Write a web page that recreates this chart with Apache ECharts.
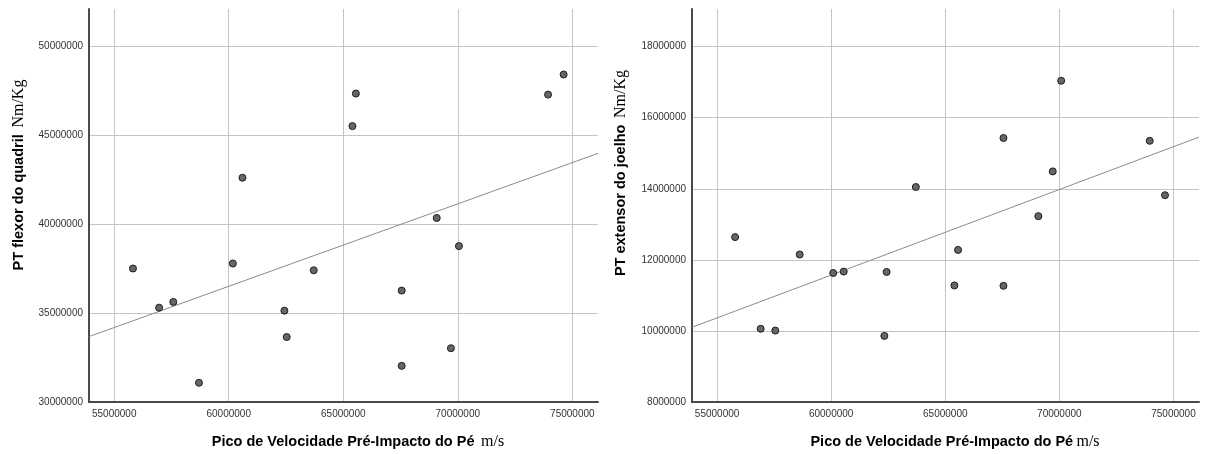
<!DOCTYPE html>
<html>
<head>
<meta charset="utf-8">
<script src="https://cdn.jsdelivr.net/npm/echarts@6/dist/echarts.min.js"></script>
<style>
  html, body { margin: 0; padding: 0; background: #fff; }
  #chart { width: 1211px; height: 454px; }
</style>
</head>
<body>
<div id="chart"></div>
<script>
// Peak pre-impact foot velocity (m/s) for each athlete, hip panel and knee panel
const velocityHip = [55820000, 56960000, 57580000, 58700000, 60180000, 60600000, 62430000, 62530000, 63710000,
                     65400000, 65550000, 67550000, 67550000, 69080000, 69700000, 70050000, 73940000, 74620000];
// Peak torque of the hip flexors (Nm/Kg)
const hipFlexor = [37500000, 35300000, 35620000, 31080000, 37780000, 42600000, 35130000, 33650000, 37400000,
                   45500000, 47330000, 36260000, 32030000, 40340000, 33020000, 38760000, 47270000, 48400000];

const velocityKnee = [55790000, 56910000, 57550000, 58620000, 60090000, 60550000, 62430000, 62330000, 63710000,
                      65400000, 65560000, 67550000, 67550000, 69080000, 69710000, 70080000, 73960000, 74630000];
// Peak torque of the knee extensors (Nm/Kg)
const kneeExtensor = [12640000, 10060000, 10010000, 12150000, 11630000, 11670000, 11660000, 9860000, 14050000,
                      11280000, 12280000, 11270000, 15430000, 13230000, 14490000, 17040000, 15350000, 13820000];

// Axis extents
const xRange = [53900000, 76120000];
const hipRange = [30000000, 52080000];
const kneeRange = [8000000, 19060000];

// Least-squares fit line across the x range
function fitLine(xs, ys, range) {
  const n = xs.length;
  const mx = xs.reduce((a, b) => a + b, 0) / n;
  const my = ys.reduce((a, b) => a + b, 0) / n;
  let sxy = 0, sxx = 0;
  for (let i = 0; i < n; i++) {
    sxy += (xs[i] - mx) * (ys[i] - my);
    sxx += (xs[i] - mx) * (xs[i] - mx);
  }
  const b = sxy / sxx, a = my - b * mx;
  return range.map(x => [x, a + b * x]);
}

const labelFont = 'Liberation Sans, Arial, sans-serif';
const gridColor = '#c4c4c4';
const axisColor = '#4a4a4a';
const plain = v => String(Math.round(v));

function xAxis(gridIndex) {
  return {
    type: 'value', gridIndex, min: xRange[0], max: xRange[1],
    axisLine: { show: true, onZero: false, lineStyle: { color: axisColor, width: 2 } },
    axisTick: { show: false },
    axisLabel: { color: '#333', fontSize: 10, fontFamily: labelFont, margin: 7, formatter: plain,
                 showMinLabel: false, showMaxLabel: false },
    splitLine: { show: true, showMinLine: false, showMaxLine: false,
                 lineStyle: { color: gridColor, width: 1 } }
  };
}
function yAxis(gridIndex, range) {
  return {
    type: 'value', gridIndex, min: range[0], max: range[1],
    axisLine: { show: true, onZero: false, lineStyle: { color: axisColor, width: 2 } },
    axisTick: { show: false },
    axisLabel: { color: '#333', fontSize: 10, fontFamily: labelFont, margin: 6, formatter: plain,
                 showMinLabel: true, showMaxLabel: false },
    splitLine: { show: true, showMinLine: false, showMaxLine: false,
                 lineStyle: { color: gridColor, width: 1 } }
  };
}

const pointStyle = { color: '#666666', borderColor: '#1e1e1e', borderWidth: 1, opacity: 1 };
const lineStyle = { color: '#8c8c8c', width: 1 };

const rich = {
  b: { fontFamily: labelFont, fontWeight: 'bold', fontSize: 14.5, color: '#111' },
  u: { fontFamily: 'Liberation Serif, Times New Roman, serif', fontSize: 16, color: '#111' }
};

const chart = echarts.init(document.getElementById('chart'), null, { renderer: 'canvas' });
chart.setOption({
  animation: false,
  backgroundColor: '#ffffff',
  grid: [
    { left: 89, top: 9, width: 509, height: 393 },
    { left: 692, top: 9, width: 507, height: 393 }
  ],
  xAxis: [xAxis(0), xAxis(1)],
  yAxis: [yAxis(0, hipRange), yAxis(1, kneeRange)],
  series: [
    { type: 'line', xAxisIndex: 0, yAxisIndex: 0, data: fitLine(velocityHip, hipFlexor, xRange),
      symbol: 'none', lineStyle, z: 2, silent: true },
    { type: 'scatter', xAxisIndex: 0, yAxisIndex: 0, symbolSize: 7, itemStyle: pointStyle, z: 3,
      data: velocityHip.map((x, i) => [x, hipFlexor[i]]) },
    { type: 'line', xAxisIndex: 1, yAxisIndex: 1, data: fitLine(velocityKnee, kneeExtensor, xRange),
      symbol: 'none', lineStyle, z: 2, silent: true },
    { type: 'scatter', xAxisIndex: 1, yAxisIndex: 1, symbolSize: 7, itemStyle: pointStyle, z: 3,
      data: velocityKnee.map((x, i) => [x, kneeExtensor[i]]) }
  ],
  graphic: [
    { type: 'text', x: 358, y: 442,
      style: { text: '{b|Pico de Velocidade Pré-Impacto do Pé}  {u|m/s}', rich,
               align: 'center', verticalAlign: 'middle' } },
    { type: 'text', x: 955, y: 442,
      style: { text: '{b|Pico de Velocidade Pré-Impacto do Pé} {u|m/s}', rich,
               align: 'center', verticalAlign: 'middle' } },
    { type: 'text', x: 19, y: 175, rotation: Math.PI / 2,
      style: { text: '{b|PT flexor do quadril}  {u|Nm/Kg}', rich,
               align: 'center', verticalAlign: 'middle' } },
    { type: 'text', x: 621, y: 173, rotation: Math.PI / 2,
      style: { text: '{b|PT extensor do joelho}  {u|Nm/Kg}', rich,
               align: 'center', verticalAlign: 'middle' } }
  ]
});
</script>
</body>
</html>
